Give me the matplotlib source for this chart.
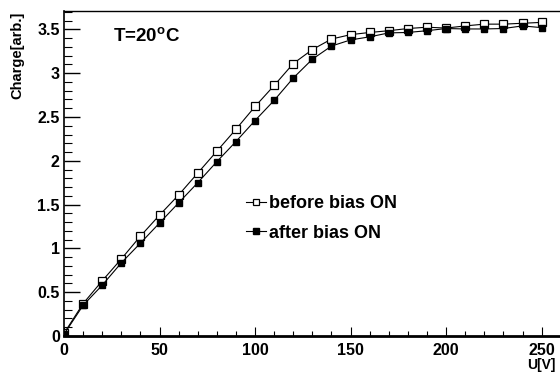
import matplotlib
matplotlib.use('Agg')
import matplotlib.pyplot as plt
from matplotlib.ticker import MultipleLocator, FuncFormatter

plt.rcParams['font.family'] = ['Liberation Sans', 'DejaVu Sans']
plt.rcParams['font.weight'] = 'bold'
plt.rcParams['mathtext.fontset'] = 'custom'
plt.rcParams['mathtext.bf'] = 'Liberation Sans:bold'
plt.rcParams['mathtext.rm'] = 'Liberation Sans:bold'

# voltage steps and measured charge
u_volts = [0, 10, 20, 30, 40, 50, 60, 70, 80, 90, 100, 110, 120, 130, 140,
           150, 160, 170, 180, 190, 200, 210, 220, 230, 240, 250]
charge_before = [0.03, 0.37, 0.63, 0.88, 1.14, 1.38, 1.61, 1.86, 2.11, 2.36,
                 2.62, 2.86, 3.11, 3.27, 3.39, 3.44, 3.465, 3.485, 3.51, 3.525,
                 3.515, 3.54, 3.56, 3.56, 3.57, 3.58]
charge_after = [0.02, 0.35, 0.58, 0.835, 1.06, 1.29, 1.52, 1.75, 1.99, 2.22,
                2.46, 2.69, 2.945, 3.16, 3.31, 3.38, 3.415, 3.46, 3.465, 3.485,
                3.51, 3.505, 3.505, 3.51, 3.54, 3.52]

fig = plt.figure(figsize=(5.6, 3.76), dpi=100)
ax = fig.add_axes([64 / 560, 40 / 376, 496 / 560, 325 / 376])

ax.plot(u_volts, charge_before, 'ks-', mfc='white', mec='black', ms=5.5,
        mew=0.9, lw=0.8, label='before bias ON')
ax.plot(u_volts, charge_after, 'ks-', mfc='black', mec='black', ms=5,
        lw=0.8, label='after bias ON')

ax.set_xlim(0, 259.6)
ax.set_ylim(0, 3.71)

ax.xaxis.set_major_locator(MultipleLocator(50))
ax.xaxis.set_minor_locator(MultipleLocator(10))
ax.yaxis.set_major_locator(MultipleLocator(0.5))
ax.yaxis.set_minor_locator(MultipleLocator(0.1))
ax.yaxis.set_major_formatter(FuncFormatter(lambda v, p: '%g' % v))

ax.tick_params(axis='x', which='major', direction='in', length=6.5, width=0.8,
               labelsize=11.5, pad=5, top=False)
ax.tick_params(axis='x', which='minor', direction='in', length=3.5, width=0.8,
               top=False)
ax.tick_params(axis='y', which='major', direction='in', length=11.5, width=1,
               labelsize=11.5, pad=3, right=False)
ax.tick_params(axis='y', which='minor', direction='in', length=5.8, width=0.8,
               right=False)

ax.spines['right'].set_visible(False)
ax.spines['top'].set_linewidth(1)
ax.spines['left'].set_linewidth(1.2)
ax.spines['bottom'].set_linewidth(2)

fig.text(113 / 560, 1 - 37 / 376, r'T=20$^{\rm o}$C', fontsize=13.5,
         ha='left', va='center', fontweight='bold')

fig.text(17 / 560, 1 - 12 / 376, 'Charge[arb.]', rotation=90, ha='center',
         va='top', fontsize=10.5, fontweight='bold')
fig.text(556 / 560, 1 - 365 / 376, 'U[V]', ha='right', va='center',
         fontsize=10, fontweight='bold')

leg = ax.legend(loc='upper left', bbox_to_anchor=((246 - 64) / 496, (336 - 195) / 325),
                frameon=False, handlelength=1.1, handletextpad=0.15,
                borderpad=0, borderaxespad=0, labelspacing=0.7, markerscale=0.85,
                prop={'weight': 'bold', 'size': 13})

plt.savefig('out.png', dpi=100)
plt.close()
